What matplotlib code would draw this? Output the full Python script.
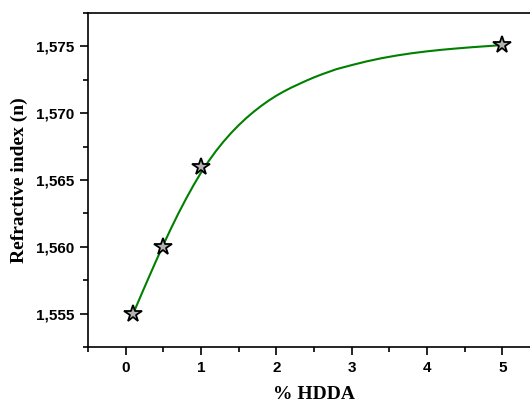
import matplotlib
matplotlib.use('Agg')
import matplotlib.pyplot as plt
from matplotlib.ticker import FuncFormatter, MultipleLocator

# measured points
hdda = [0.1, 0.5, 1.0, 5.0]
n_index = [1.5550, 1.5600, 1.5660, 1.5751]

# fitted curve
fit_x = [0.1, 0.2, 0.3, 0.4, 0.5, 0.6, 0.7, 0.8, 0.9, 1.0, 1.1, 1.2, 1.3,
         1.4, 1.5, 1.6, 1.7, 1.8, 1.9, 2.0, 2.1, 2.2, 2.3, 2.4, 2.5, 2.6,
         2.8, 3.0, 3.2, 3.4, 3.6, 3.8, 4.0, 4.2, 4.4, 4.6, 4.8, 5.0]
fit_y = [1.55500, 1.55632, 1.55762, 1.55890, 1.56015, 1.56135, 1.56250,
         1.56358, 1.56460, 1.56555, 1.56640, 1.56718, 1.56788, 1.56852,
         1.56910, 1.56963, 1.57011, 1.57055, 1.57095, 1.57131, 1.57163,
         1.57192, 1.57218, 1.57244, 1.57268, 1.57290, 1.57330, 1.57360,
         1.57388, 1.57412, 1.57432, 1.57449, 1.57463, 1.57475, 1.57485,
         1.57494, 1.57502, 1.57510]

fig = plt.figure(figsize=(5.3, 4.03), dpi=100)
ax = fig.add_axes([88 / 530, 56 / 403, 452 / 530, 334 / 403])

ax.plot(fit_x, fit_y, color='#008000', lw=1.5, zorder=2)
ax.plot(hdda, n_index, ls='none', marker='*', ms=13, mfc='0.7',
        mec='black', mew=1.3, zorder=3)

ax.set_xlim(-0.5, 5.5)
ax.set_ylim(1.5525, 1.5775)
ax.xaxis.set_major_locator(MultipleLocator(1))
ax.xaxis.set_minor_locator(MultipleLocator(0.5))
ax.yaxis.set_major_locator(MultipleLocator(0.005))
ax.yaxis.set_minor_locator(MultipleLocator(0.0025))
ax.yaxis.set_major_formatter(FuncFormatter(lambda v, p: ('%.3f' % v).replace('.', ',')))
ax.xaxis.set_major_formatter(FuncFormatter(lambda v, p: '%d' % round(v)))

ax.tick_params(which='both', direction='out', top=False, right=False, width=1.2)
ax.tick_params(which='major', length=6, pad=4)
ax.tick_params(which='minor', length=3.5)
for lab in ax.get_xticklabels() + ax.get_yticklabels():
    lab.set_fontfamily('Liberation Sans')
    lab.set_fontweight('bold')
    lab.set_fontsize(11)
for s in ax.spines.values():
    s.set_linewidth(1.2)

ax.set_xlabel('% HDDA', fontfamily='Liberation Serif', fontweight='bold',
              fontsize=14)
ax.xaxis.set_label_coords(0.5, -0.116)
ax.set_ylabel('Refractive index (n)', fontfamily='Liberation Serif',
              fontweight='bold', fontsize=14)
ax.yaxis.set_label_coords(-0.133, 0.5)

fig.savefig('out.png', dpi=100)
